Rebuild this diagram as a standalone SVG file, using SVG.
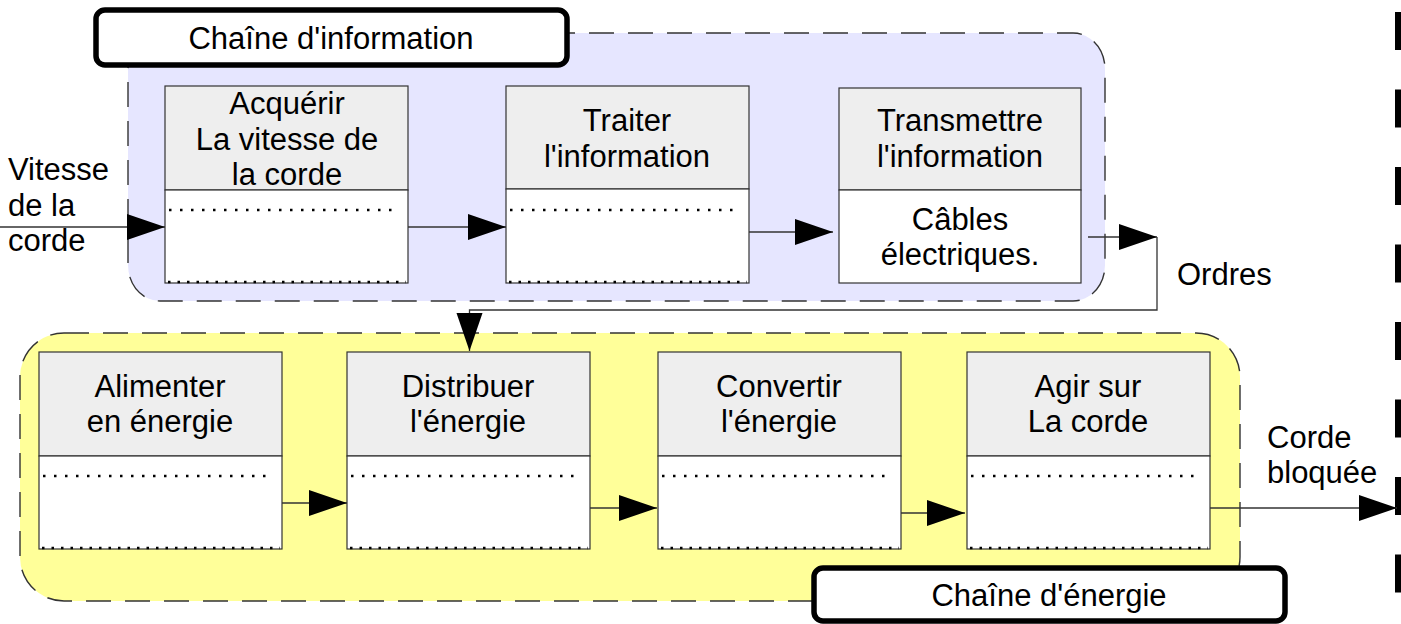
<svg xmlns="http://www.w3.org/2000/svg" width="1401" height="624" viewBox="0 0 1401 624">
  <defs>
    <marker id="ah" markerUnits="userSpaceOnUse" markerWidth="40" markerHeight="28" refX="38" refY="13" orient="auto">
      <path d="M0,0 L38,13 L0,26 z" fill="#000"/>
    </marker>
    <style>
      text { font-family: "Liberation Sans", Arial, sans-serif; font-size: 31px; fill: #000; }
      .c { text-anchor: middle; }
      .grp { stroke: #333; stroke-width: 1.4; stroke-dasharray: 25 14; }
      .hdr { fill: #eeeeee; stroke: #333; stroke-width: 1.2; }
      .low { fill: #ffffff; stroke: #333; stroke-width: 1.2; }
      .dot { stroke: #000; stroke-width: 2.5; stroke-dasharray: 2.5 8.5; fill: none; }
      .dotb { stroke: #000; stroke-width: 2.5; stroke-dasharray: 2.5 7; fill: none; }
      .lbl { fill: #fff; stroke: #000; stroke-width: 5.5; }
      .con { stroke: #333; stroke-width: 1.3; fill: none; }
    </style>
  </defs>

  <g id="chaine-information-group">
    <rect x="128" y="33" width="977" height="268" rx="32" ry="36" fill="#e6e6ff" class="grp"/>
  </g>
  <g id="chaine-energie-group">
    <rect x="20" y="333" width="1220" height="268" rx="44" ry="44" fill="#ffff99" class="grp"/>
  </g>

  <g id="right-border">
    <line x1="1398" y1="12" x2="1398" y2="624" stroke="#000" stroke-width="6" stroke-dasharray="38 39.5"/>
  </g>

  <g id="acquerir">
    <rect class="hdr" x="165" y="86" width="243" height="104"/>
    <rect class="low" x="165" y="190" width="243" height="93"/>
    <line class="dot" x1="169" y1="210" x2="400" y2="210"/>
    <line class="dotb" x1="168" y1="282" x2="406" y2="282"/>
    <text class="c" x="287" y="114">Acquérir</text>
    <text class="c" x="287" y="150">La vitesse de</text>
    <text class="c" x="287" y="185">la corde</text>
  </g>
  <g id="traiter">
    <rect class="hdr" x="506" y="86" width="243" height="103"/>
    <rect class="low" x="506" y="189" width="243" height="94"/>
    <line class="dot" x1="510" y1="210" x2="741" y2="210"/>
    <line class="dotb" x1="509" y1="282" x2="747" y2="282"/>
    <text class="c" x="627" y="131">Traiter</text>
    <text class="c" x="627" y="167">l'information</text>
  </g>
  <g id="transmettre">
    <rect class="hdr" x="839" y="88" width="242" height="102"/>
    <rect class="low" x="839" y="190" width="242" height="93"/>
    <text class="c" x="960" y="131">Transmettre</text>
    <text class="c" x="960" y="167">l'information</text>
    <text class="c" x="960" y="230">Câbles</text>
    <text class="c" x="960" y="265">électriques.</text>
  </g>

  <g id="alimenter">
    <rect class="hdr" x="39" y="352" width="243" height="104"/>
    <rect class="low" x="39" y="456" width="243" height="93"/>
    <line class="dot" x1="43" y1="476" x2="274" y2="476"/>
    <line class="dotb" x1="42" y1="548" x2="280" y2="548"/>
    <text class="c" x="160" y="397">Alimenter</text>
    <text class="c" x="160" y="432">en énergie</text>
  </g>
  <g id="distribuer">
    <rect class="hdr" x="347" y="352" width="243" height="104"/>
    <rect class="low" x="347" y="456" width="243" height="93"/>
    <line class="dot" x1="351" y1="476" x2="582" y2="476"/>
    <line class="dotb" x1="350" y1="548" x2="588" y2="548"/>
    <text class="c" x="468" y="397">Distribuer</text>
    <text class="c" x="468" y="432">l'énergie</text>
  </g>
  <g id="convertir">
    <rect class="hdr" x="658" y="352" width="243" height="104"/>
    <rect class="low" x="658" y="456" width="243" height="93"/>
    <line class="dot" x1="662" y1="476" x2="893" y2="476"/>
    <line class="dotb" x1="661" y1="548" x2="899" y2="548"/>
    <text class="c" x="779" y="397">Convertir</text>
    <text class="c" x="779" y="432">l'énergie</text>
  </g>
  <g id="agir">
    <rect class="hdr" x="967" y="352" width="243" height="104"/>
    <rect class="low" x="967" y="456" width="243" height="93"/>
    <line class="dot" x1="971" y1="476" x2="1202" y2="476"/>
    <line class="dotb" x1="970" y1="548" x2="1208" y2="548"/>
    <text class="c" x="1088" y="397">Agir sur</text>
    <text class="c" x="1088" y="432">La corde</text>
  </g>

  <g id="connectors">
    <line class="con" x1="0" y1="227" x2="165" y2="227" marker-end="url(#ah)"/>
    <line class="con" x1="408" y1="227" x2="506" y2="227" marker-end="url(#ah)"/>
    <line class="con" x1="749" y1="232" x2="833" y2="232" marker-end="url(#ah)"/>
    <line class="con" x1="1088" y1="237" x2="1157" y2="237" marker-end="url(#ah)"/>
    <path class="con" d="M1157,237 V310 H469.5 V351" marker-end="url(#ah)"/>
    <line class="con" x1="282" y1="503" x2="347" y2="503" marker-end="url(#ah)"/>
    <line class="con" x1="590" y1="508" x2="657" y2="508" marker-end="url(#ah)"/>
    <line class="con" x1="901" y1="513" x2="965" y2="513" marker-end="url(#ah)"/>
    <line class="con" x1="1210" y1="508" x2="1397" y2="508" marker-end="url(#ah)"/>
  </g>

  <g id="free-labels">
    <text x="8" y="180">Vitesse</text>
    <text x="8" y="216">de la</text>
    <text x="8" y="251">corde</text>
    <text x="1177" y="285">Ordres</text>
    <text x="1267" y="448">Corde</text>
    <text x="1267" y="483">bloquée</text>
  </g>

  <g id="label-information">
    <rect class="lbl" x="96" y="10" width="471" height="55" rx="9"/>
    <text class="c" x="331" y="49">Chaîne d'information</text>
  </g>
  <g id="label-energie">
    <rect class="lbl" x="814" y="568" width="471" height="53" rx="9"/>
    <text class="c" x="1049" y="606">Chaîne d'énergie</text>
  </g>
</svg>
